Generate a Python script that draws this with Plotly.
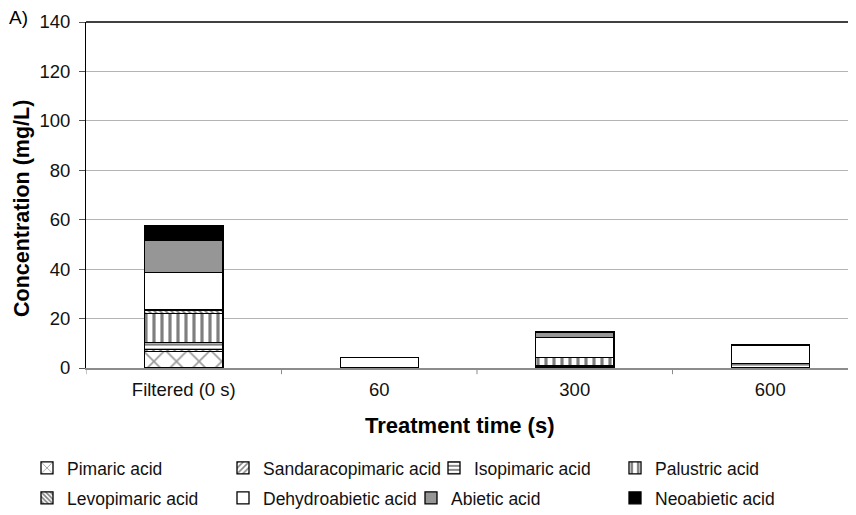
import plotly.graph_objects as go

categories = ["Filtered (0 s)", "60", "300", "600"]
series_names = ["Pimaric acid", "Sandaracopimaric acid", "Isopimaric acid", "Palustric acid",
                "Levopimaric acid", "Dehydroabietic acid", "Abietic acid", "Neoabietic acid"]
pimaric = [6.6, 0.0, 0.8, 0.0]
sandaracopimaric = [1.0, 0.0, 0.0, 0.0]
isopimaric = [2.6, 0.0, 0.0, 1.9]
palustric = [11.9, 0.0, 3.4, 0.0]
levopimaric = [1.4, 0.0, 0.0, 0.0]
dehydroabietic = [15.2, 4.3, 8.2, 7.1]
abietic = [13.1, 0.0, 1.9, 0.0]
neoabietic = [5.7, 0.0, 0.4, 0.6]
y_ticks = [0, 20, 40, 60, 80, 100, 120, 140]

values = [pimaric, sandaracopimaric, isopimaric, palustric, levopimaric,
          dehydroabietic, abietic, neoabietic]

styles = [
    dict(color="white", pattern=dict(shape="x", fgcolor="#333333", bgcolor="white", size=16, solidity=0.2)),
    dict(color="white", pattern=dict(shape="/", fgcolor="#111111", bgcolor="white", size=5, solidity=0.4)),
    dict(color="white", pattern=dict(shape="-", fgcolor="#000000", bgcolor="white", size=5, solidity=0.45)),
    dict(color="white", pattern=dict(shape="|", fgcolor="#000000", bgcolor="white", size=8, solidity=0.4)),
    dict(color="white", pattern=dict(shape="\\", fgcolor="#000000", bgcolor="white", size=4, solidity=0.5)),
    dict(color="white"),
    dict(color="#969696"),
    dict(color="black"),
]

# legend text start positions (page px) and row centres (page px)
leg_pos = [(67, 468), (263, 468), (474, 468), (655, 468),
           (67, 498), (263, 498), (451, 498), (655, 498)]

OFF = 8  # page body margin
W, H = 856 - OFF, 515 - OFF
L, T, PW, PH = 86 - OFF, 22 - OFF, 770, 346
FONT = "Liberation Sans, Arial"


def px2paper(px, py):
    return (px - OFF - L) / PW, (T + PH - (py - OFF)) / PH


fig = go.Figure()
for i, (name, vals, st) in enumerate(zip(series_names, values, styles)):
    lname = "legend" if i == 0 else f"legend{i+1}"
    fig.add_trace(go.Bar(
        x=list(range(len(categories))), y=vals, name=name,
        marker=dict(line=dict(color="black", width=1.3), **st),
        width=0.4, legend=lname,
    ))

layout_legends = {}
for i, (px, py) in enumerate(leg_pos):
    lname = "legend" if i == 0 else f"legend{i+1}"
    lx, ly = px2paper(px - 40, py)
    layout_legends[lname] = dict(
        x=lx, y=ly, xanchor="left", yanchor="middle",
        bgcolor="rgba(0,0,0,0)", borderwidth=0,
        font=dict(family=FONT, size=17.5, color="#111111"),
        itemclick=False,
    )

ax, ay = px2paper(22, 209)
bx, by = px2paper(460, 425)
cx, cy = px2paper(7, 18)

fig.update_layout(
    barmode="stack",
    width=W, height=H,
    margin=dict(l=L, r=W - L - PW, t=T, b=H - T - PH, autoexpand=False),
    paper_bgcolor="white", plot_bgcolor="white",
    font=dict(family=FONT, color="black"),
    showlegend=True,
    **layout_legends,
    xaxis=dict(
        tickmode="array", tickvals=list(range(len(categories))), ticktext=categories,
        range=[-0.5, -0.5 + 770 / 195.5],
        showgrid=False, zeroline=False,
        showline=True, linecolor="#8c8c8c", linewidth=1.5,
        ticks="", tickfont=dict(size=18.5, color="#111111"),
        ticklabelstandoff=4,
    ),
    yaxis=dict(
        range=[0, 140], tickvals=y_ticks,
        showgrid=True, gridcolor="#b4b4b4", gridwidth=1,
        zeroline=False, showline=True, linecolor="black", linewidth=1,
        ticks="outside", ticklen=6, tickcolor="#555555",
        tickfont=dict(size=18.5, color="#111111"),
        ticklabelstandoff=5,
    ),
    annotations=[
        dict(text="<b>Concentration (mg/L)</b>", xref="paper", yref="paper",
             x=ax, y=ay, textangle=-90, showarrow=False,
             font=dict(size=21.5, family=FONT, color="black"),
             xanchor="center", yanchor="middle"),
        dict(text="<b>Treatment time (s)</b>", xref="paper", yref="paper",
             x=bx, y=by, showarrow=False,
             font=dict(size=22, family=FONT, color="black"),
             xanchor="center", yanchor="middle"),
        dict(text="A)", xref="paper", yref="paper",
             x=cx, y=cy, showarrow=False,
             font=dict(size=19, family=FONT, color="black"),
             xanchor="left", yanchor="middle"),
    ],
    shapes=[
        dict(type="line", xref="paper", yref="paper", x0=0, x1=1, y0=1, y1=1,
             line=dict(color="black", width=1.5)),
    ] + [
        dict(type="line", xref="x", yref="paper", x0=b, x1=b, y0=0, y1=-0.018,
             line=dict(color="#8c8c8c", width=1))
        for b in [k - 0.5 for k in range(len(categories))]
    ],
)

fig.write_html("out.html")
